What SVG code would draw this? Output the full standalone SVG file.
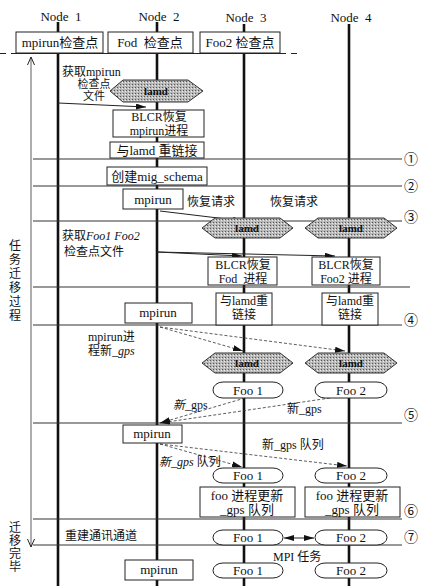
<svg xmlns="http://www.w3.org/2000/svg" width="422" height="586" viewBox="0 0 422 586">
<defs>
<style>
text{font-family:"Liberation Serif","Noto Sans CJK SC",serif;font-size:13px;fill:#111}
.s12{font-size:12px}
.s11{font-size:11px}
.c{text-anchor:middle}
.box{fill:#fff;stroke:#222;stroke-width:1}
.life{stroke:#111;stroke-width:2.6;fill:none}
.hl{stroke:#333;stroke-width:1;fill:none}
.arr{stroke:#222;stroke-width:1;fill:none;marker-end:url(#ah)}
.darr{stroke:#333;stroke-width:0.8;stroke-dasharray:3,2;fill:none;marker-end:url(#ah)}
.hex{fill:url(#stip);stroke:#333;stroke-width:1}
.lamd{font-weight:bold;font-size:11px;text-anchor:middle}
.num{font-size:14px;text-anchor:middle}
.it{font-style:italic}
</style>
<pattern id="stip" width="3" height="3" patternUnits="userSpaceOnUse">
<rect width="3" height="3" fill="#b8b8b8"/>
<rect x="0" y="0" width="1" height="1" fill="#555"/>
<rect x="2" y="1" width="1" height="1" fill="#eee"/>
</pattern>
<marker id="ah" viewBox="0 0 10 6" refX="10" refY="3" markerWidth="10" markerHeight="6" orient="auto-start-reverse" markerUnits="userSpaceOnUse"><path d="M0,0 L10,3 L0,6 z" fill="#111"/></marker>
<marker id="oa" viewBox="0 0 8 8" refX="8" refY="4" markerWidth="8" markerHeight="8" orient="auto-start-reverse" markerUnits="userSpaceOnUse"><path d="M0,0.5 L8,4 L0,7.5" fill="none" stroke="#222" stroke-width="1"/></marker>
</defs>
<rect width="422" height="586" fill="#fff"/>

<g id="lifelines">
<line class="life" x1="58" y1="22" x2="58" y2="586"/>
<line class="life" x1="157" y1="22" x2="157" y2="586"/>
<line class="life" x1="244" y1="24" x2="244" y2="586" stroke-width="3"/>
<line class="life" x1="349" y1="24" x2="349" y2="586" stroke-width="3"/>
</g>

<g id="header">
<text x="61" y="21" class="c" xml:space="preserve">Node  1</text>
<text x="159" y="21" class="c" xml:space="preserve">Node  2</text>
<text x="246" y="22" class="c" xml:space="preserve">Node  3</text>
<text x="351" y="22" class="c" xml:space="preserve">Node  4</text>
<line x1="16" y1="53.5" x2="280" y2="53.5" stroke="#222" stroke-width="1.2"/>
<line x1="0" y1="53.5" x2="16" y2="53.5" stroke="#222" stroke-width="1.2" stroke-dasharray="6,5"/>
<line x1="280" y1="53.5" x2="302" y2="53.5" stroke="#222" stroke-width="1.2" stroke-dasharray="6,5"/>
</g>

<g id="cp1"><rect class="box" x="16" y="32" width="87" height="21"/><text x="60" y="47" class="c">mpirun检查点</text></g>
<g id="cp2"><rect class="box" x="108" y="32" width="85" height="21"/><text x="150" y="47" class="c" xml:space="preserve">Fod  检查点</text></g>
<g id="cp3"><rect class="box" x="200" y="32" width="80" height="21"/><text x="240" y="47" class="c">Foo2 检查点</text></g>

<g id="phase-lines">
<line class="hl" x1="33" y1="159" x2="402" y2="159"/>
<line class="hl" x1="33" y1="186" x2="402" y2="186"/>
<line class="hl" x1="33" y1="221" x2="402" y2="221"/>
<line class="hl" x1="33" y1="287" x2="410" y2="287"/>
<line class="hl" x1="33" y1="325" x2="402" y2="325"/>
<line class="hl" x1="33" y1="423" x2="402" y2="423"/>
<line class="hl" x1="33" y1="519" x2="402" y2="519"/>
<line class="hl" x1="33" y1="545" x2="402" y2="545"/>
<text x="411" y="164" class="num">①</text>
<text x="411" y="191" class="num">②</text>
<text x="411" y="222" class="num">③</text>
<text x="411" y="325" class="num">④</text>
<text x="411" y="420" class="num">⑤</text>
<text x="411" y="516" class="num">⑥</text>
<text x="411" y="542" class="num">⑦</text>
</g>

<g id="side">
<line x1="31" y1="57" x2="31" y2="547" stroke="#333" stroke-width="0.8" marker-start="url(#oa)" marker-end="url(#oa)"/>
<text x="15" y="250" class="c s12">任</text>
<text x="15" y="264" class="c s12">务</text>
<text x="15" y="278" class="c s12">迁</text>
<text x="15" y="292" class="c s12">移</text>
<text x="15" y="306" class="c s12">过</text>
<text x="15" y="320" class="c s12">程</text>
<text x="15" y="532" class="c s12">迁</text>
<text x="15" y="545" class="c s12">移</text>
<text x="15" y="558" class="c s12">完</text>
<text x="15" y="571" class="c s12">毕</text>
</g>

<g id="connectors">
<line class="arr" x1="58" y1="103" x2="146" y2="107"/>
<line class="arr" x1="160" y1="211" x2="243" y2="221"/>
<line class="arr" x1="157" y1="252" x2="242" y2="256"/>
<line class="arr" x1="157" y1="252" x2="335" y2="256"/>
<line class="darr" x1="160" y1="327" x2="243" y2="351"/>
<line class="darr" x1="160" y1="327" x2="345" y2="351"/>
<line class="darr" x1="245" y1="398" x2="160" y2="423"/>
<line class="darr" x1="330" y1="398" x2="160" y2="423"/>
<line class="darr" x1="160" y1="444" x2="242" y2="467"/>
<line class="darr" x1="160" y1="444" x2="347" y2="466"/>
<line x1="284" y1="538" x2="314" y2="538" stroke="#222" stroke-width="1" marker-start="url(#ah)" marker-end="url(#ah)"/>
</g>

<g id="labels">
<text x="62" y="76" class="s12">获取mpirun</text>
<text x="94" y="88" class="c s11">检查点</text>
<text x="94" y="100" class="c s11">文件</text>
<text x="187" y="206" class="s12">恢复请求</text>
<text x="270" y="206" class="s12">恢复请求</text>
<text x="62" y="240" class="s12">获取<tspan class="it">Foo1 Foo2</tspan></text>
<text x="64" y="256" class="s12">检查点文件</text>
<text x="88" y="341" class="s12">mpirun进</text>
<text x="88" y="355" class="s12">程新_<tspan class="it">gps</tspan></text>
<text x="173" y="409" class="s12"><tspan class="it">新</tspan>_gps</text>
<text x="287" y="413" class="s12">新_gps</text>
<text x="262" y="449" class="s12">新_gps 队列</text>
<text x="159" y="466" class="s12"><tspan class="it">新_gps</tspan> 队列</text>
<text x="65" y="540" class="s12">重建通讯通道</text>
<text x="273" y="561" class="s12">MPI 任务</text>
</g>

<g id="lamd1"><polygon class="hex" points="110,91 123,80 188,80 203,91 188,102 123,102"/><text x="156" y="95" class="lamd">lamd</text></g>
<g id="blcr-mpirun"><rect class="box" x="113" y="110" width="91" height="27"/><text x="159" y="121" class="c s12">BLCR恢复</text><text x="159" y="134.5" class="c s12">mpirun进程</text></g>
<g id="relink-mpirun"><rect class="box" x="110" y="142" width="94" height="16"/><text x="157" y="155" class="c">与lamd 重链接</text></g>
<g id="mig-schema"><rect class="box" x="107" y="167" width="100" height="18"/><text x="157" y="181" class="c">创建mig_schema</text></g>
<g id="mpirun1"><rect class="box" x="123" y="189" width="60" height="20"/><text x="153" y="204" class="c">mpirun</text></g>

<g id="lamd3a"><polygon class="hex" points="202,228 215,218 280,218 293,228 280,238 215,238"/><text x="247" y="232" class="lamd">lamd</text></g>
<g id="lamd4a"><polygon class="hex" points="305,228 318,218 384,218 397,228 384,238 318,238"/><text x="351" y="232" class="lamd">lamd</text></g>

<g id="blcr-foo1"><rect class="box" x="208" y="257" width="69" height="28"/><text x="243" y="269" class="c s12">BLCR恢复</text><text x="243" y="282.5" class="c s12" xml:space="preserve">Fod  进程</text></g>
<g id="blcr-foo2"><rect class="box" x="312" y="257" width="68" height="28"/><text x="346" y="269" class="c s12">BLCR恢复</text><text x="346" y="282.5" class="c s12">Foo2 进程</text></g>

<g id="relink-foo1"><rect class="box" x="216" y="293" width="56" height="32"/><text x="244" y="305" class="c s12">与lamd重</text><text x="244" y="319" class="c s12">链接</text></g>
<g id="relink-foo2"><rect class="box" x="322" y="293" width="56" height="32"/><text x="350" y="305" class="c s12">与lamd重</text><text x="350" y="319" class="c s12">链接</text></g>
<g id="mpirun2"><rect class="box" x="125" y="303" width="67" height="20"/><text x="158" y="317" class="c">mpirun</text></g>

<g id="lamd3b"><polygon class="hex" points="202,363 215,353 280,353 293,363 280,373 215,373"/><text x="247" y="367" class="lamd">lamd</text></g>
<g id="lamd4b"><polygon class="hex" points="305,363 318,353 384,353 397,363 384,373 318,373"/><text x="351" y="367" class="lamd">lamd</text></g>

<g id="foo1a"><rect class="box" x="213" y="382" width="70" height="16" rx="10" ry="8"/><text x="248" y="395" class="c">Foo 1</text></g>
<g id="foo2a"><rect class="box" x="315" y="382" width="72" height="16" rx="10" ry="8"/><text x="351" y="395" class="c">Foo 2</text></g>

<g id="mpirun3"><rect class="box" x="123" y="425" width="59" height="18"/><text x="152" y="438" class="c">mpirun</text></g>

<g id="foo1b"><rect class="box" x="213" y="468" width="70" height="15" rx="10" ry="7.5"/><text x="248" y="480" class="c">Foo 1</text></g>
<g id="foo2b"><rect class="box" x="315" y="468" width="72" height="15" rx="10" ry="7.5"/><text x="351" y="480" class="c">Foo 2</text></g>

<g id="update1"><rect class="box" x="200" y="487" width="95" height="30"/><text x="247" y="500" class="c">foo 进程更新</text><text x="247" y="514" class="c">_gps 队列</text></g>
<g id="update2"><rect class="box" x="305" y="487" width="95" height="30"/><text x="352" y="500" class="c">foo 进程更新</text><text x="352" y="514" class="c">_gps 队列</text></g>

<g id="foo1c"><rect class="box" x="213" y="530" width="70" height="15" rx="10" ry="7.5"/><text x="248" y="542" class="c">Foo 1</text></g>
<g id="foo2c"><rect class="box" x="315" y="530" width="72" height="15" rx="10" ry="7.5"/><text x="351" y="542" class="c">Foo 2</text></g>

<g id="mpirun4"><rect class="box" x="125" y="560" width="68" height="20"/><text x="159" y="574" class="c">mpirun</text></g>
<g id="foo1d"><rect class="box" x="213" y="563" width="70" height="15" rx="10" ry="7.5"/><text x="248" y="575" class="c">Foo 1</text></g>
<g id="foo2d"><rect class="box" x="315" y="563" width="72" height="15" rx="10" ry="7.5"/><text x="351" y="575" class="c">Foo 2</text></g>
</svg>
